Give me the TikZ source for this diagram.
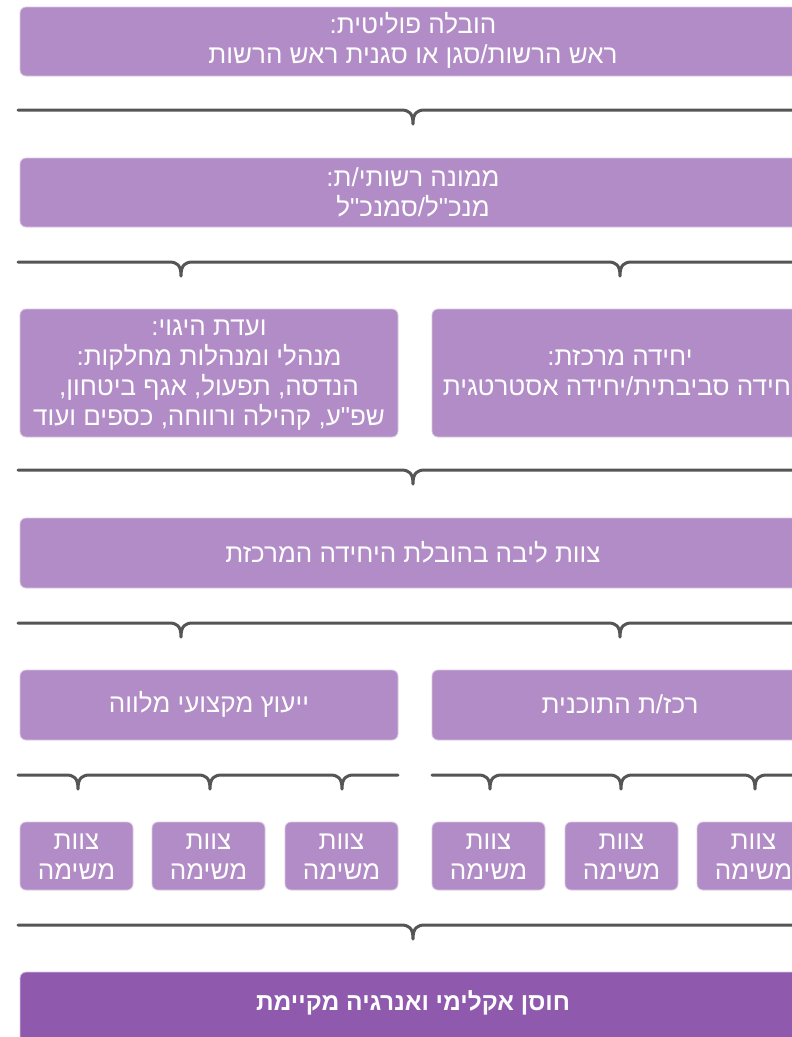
\documentclass[tikz,border=0pt]{standalone}
\usepackage{fontspec}
\TeXXeTstate=1
\newfontfamily\hb[Script=Hebrew]{Liberation Sans}
\newcommand{\heb}[1]{\beginR #1\endR}
\definecolor{boxc}{HTML}{B28CC6}
\definecolor{boxline}{HTML}{D8C6E2}
\definecolor{darkc}{HTML}{8F5AAE}
\definecolor{bracec}{HTML}{555555}
\begin{document}
\begin{tikzpicture}[x=1pt,y=-1pt,
  box/.style={fill=boxc, draw=boxline, line width=0.8pt, rounded corners=6pt},
  darkbox/.style={fill=darkc, draw=boxline, line width=0.8pt, rounded corners=6pt},
  lbl/.style={text=white, align=center, font=\hb\fontsize{26}{30}\selectfont, inner sep=0pt},
  bracel/.style={draw=bracec, line width=3pt, line cap=round, line join=round}]
\useasboundingbox (0,0) rectangle (792,1037);
\clip (0,0) rectangle (792,1037);
% braces
\newcommand{\tip}[2]{-- (#1-12,#2) .. controls (#1-4,#2) and (#1,#2+3) .. (#1,#2+14) .. controls (#1,#2+3) and (#1+4,#2) .. (#1+12,#2)}
\draw[bracel] (18,110) \tip{413}{110} -- (830,110);
\draw[bracel] (18,262) \tip{181}{262} \tip{620}{262} -- (830,262);
\draw[bracel] (18,470) \tip{413}{470} -- (830,470);
\draw[bracel] (18,623) \tip{181}{623} \tip{620}{623} -- (830,623);
\draw[bracel] (18,775) \tip{78}{775} \tip{210}{775} \tip{342}{775} -- (398,775);
\draw[bracel] (432,775) \tip{490}{775} \tip{621}{775} \tip{755}{775} -- (830,775);
\draw[bracel] (18,925) \tip{413}{925} -- (830,925);
% boxes
\draw[box] (20,7) rectangle (806,76);
\node[lbl] (t1) at (413,40) {\heb{הובלה פוליטית:}\\\heb{ראש הרשות/סגן או סגנית ראש הרשות}};
\draw[box] (20,158) rectangle (806,227);
\node[lbl] (t2) at (413,192) {\heb{ממונה רשותי/ת:}\\\heb{מנכ"ל/סמנכ"ל}};
\draw[box] (20,309) rectangle (398,437);
\node[lbl] (t3a) at (209,375) {\heb{ועדת היגוי:}\\\heb{מנהלי ומנהלות מחלקות:}\\\heb{הנדסה, תפעול, אגף ביטחון,}\\\heb{שפ"ע, קהילה ורווחה, כספים ועוד}};
\draw[box] (432,309) rectangle (808,437);
\node[lbl] (t3b) at (620,373) {\heb{יחידה מרכזת:}\\\heb{יחידה סביבתית/יחידה אסטרטגית}};
\draw[box] (20,518) rectangle (806,588);
\node[lbl] (t4) at (413,552) {\heb{צוות ליבה בהובלת היחידה המרכזת}};
\draw[box] (20,670) rectangle (398,740);
\node[lbl] (t5a) at (209,704) {\heb{ייעוץ מקצועי מלווה}};
\draw[box] (432,670) rectangle (808,740);
\node[lbl] (t5b) at (620,704) {\heb{רכז/ת התוכנית}};
\foreach \x/\n in {20/a,152/b,285/c,432/d,565/e,697/f}{
  \draw[box] (\x,822) rectangle (\x+113,890);
  \node[lbl] (m\n) at (\x+56.5,857) {\heb{צוות}\\\heb{משימה}};
}
\draw[darkbox] (20,972) rectangle (806,1060);
\node[lbl, font=\hb\bfseries\fontsize{24.5}{28}\selectfont] (t7) at (413,1003) {\heb{חוסן אקלימי ואנרגיה מקיימת}};
\end{tikzpicture}
\end{document}
